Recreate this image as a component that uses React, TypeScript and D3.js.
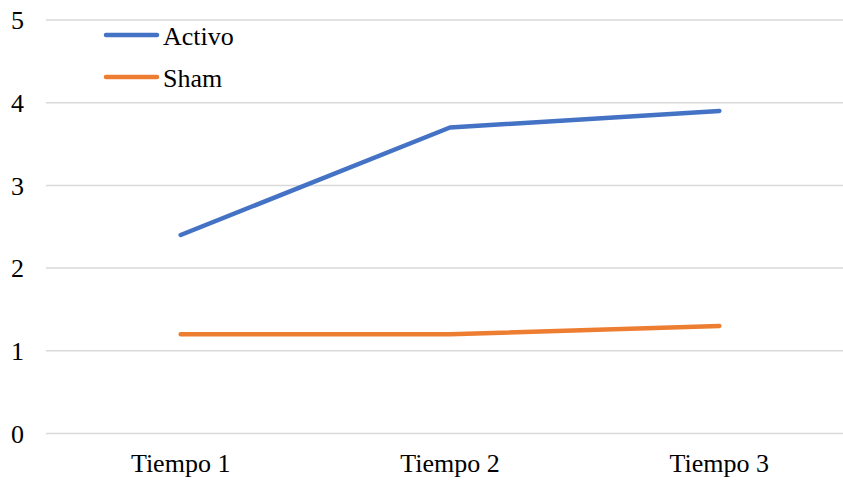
import React from "react";
import * as d3 from "d3";

const categories = ["Tiempo 1", "Tiempo 2", "Tiempo 3"];
const activo = [2.4, 3.7, 3.9];
const sham = [1.2, 1.2, 1.3];
const yTicks = [0, 1, 2, 3, 4, 5];
const seriesNames = ["Activo", "Sham"];
const seriesColors = ["#4472C4", "#ED7D31"];

const W = 843;
const H = 483;
const FONT = '"Liberation Serif", "Times New Roman", Times, "DejaVu Serif", serif';
const FS = 26;

export default function App() {
  const x = d3.scaleBand<string>().domain(categories).range([46, 854]);
  const y = d3.scaleLinear().domain([0, 5]).range([433.5, 20]);
  const cx = (c: string) => (x(c) ?? 0) + x.bandwidth() / 2;
  const line = d3
    .line<number>()
    .x((_, i) => cx(categories[i]))
    .y((v) => y(v));
  const series = [activo, sham];

  return (
    <svg
      width={W}
      height={H}
      style={{ position: "absolute", left: 0, top: 0, background: "#fff", fontFamily: FONT }}
    >
      <rect width={W} height={H} fill="#fff" />
      {yTicks.map((t) => (
        <g key={t}>
          <line x1={46} x2={W} y1={y(t)} y2={y(t)} stroke="#D9D9D9" strokeWidth={1.5} />
          <text
            x={24}
            y={y(t)}
            dy="0.35em"
            textAnchor="end"
            style={{ fontFamily: FONT }}
            fontSize={FS}
            fill="#000"
          >
            {t}
          </text>
        </g>
      ))}
      {categories.map((c) => (
        <text
          key={c}
          x={cx(c)}
          y={472}
          textAnchor="middle"
          style={{ fontFamily: FONT }}
          fontSize={FS}
          fill="#000"
        >
          {c}
        </text>
      ))}
      {series.map((s, i) => (
        <path
          key={seriesNames[i]}
          d={line(s) ?? ""}
          fill="none"
          stroke={seriesColors[i]}
          strokeWidth={4.5}
          strokeLinecap="round"
          strokeLinejoin="round"
        />
      ))}
      {seriesNames.map((n, i) => {
        const ly = 35 + i * 42;
        return (
          <g key={n}>
            <line
              x1={106}
              x2={157}
              y1={ly}
              y2={ly}
              stroke={seriesColors[i]}
              strokeWidth={4.5}
              strokeLinecap="round"
            />
            <text x={163} y={ly + 9.5} style={{ fontFamily: FONT }} fontSize={FS} fill="#000">
              {n}
            </text>
          </g>
        );
      })}
    </svg>
  );
}
